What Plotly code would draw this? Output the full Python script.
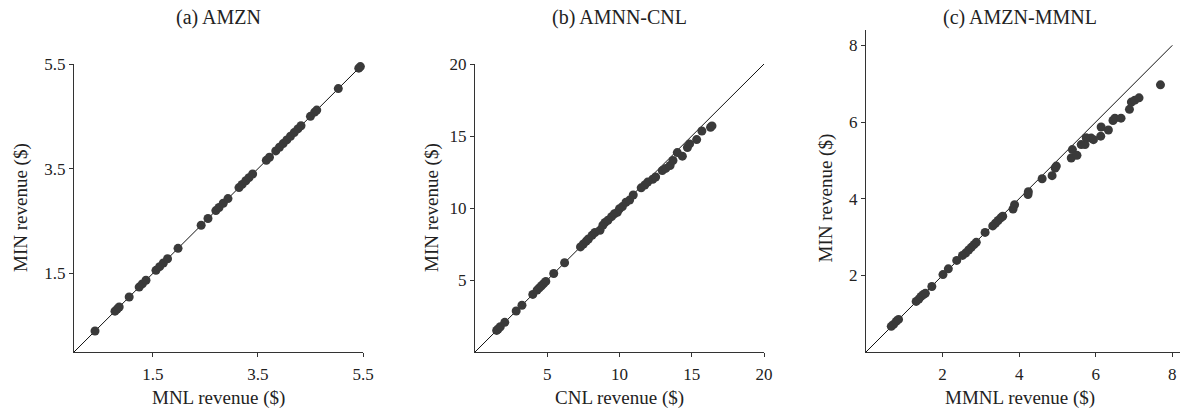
import plotly.graph_objects as go

# ---------------- data ----------------
titles = ["(a) AMZN", "(b) AMNN-CNL", "(c) AMZN-MMNL"]
x_titles = ["MNL revenue ($)", "CNL revenue ($)", "MMNL revenue ($)"]
y_title = "MIN revenue ($)"

ticks1 = [1.5, 3.5, 5.5]
ticks2 = [5, 10, 15, 20]
ticks3 = [2, 4, 6, 8]

diag1 = [0, 5.5]
diag2 = [0, 20]
diag3 = [0, 8]

x1 = [0.40, 0.78, 0.82, 0.86, 1.05, 1.24, 1.30, 1.37, 1.56, 1.63, 1.70, 1.78, 1.98,
      2.42, 2.55, 2.70, 2.76, 2.84, 2.93, 3.14, 3.20, 3.27, 3.33, 3.40, 3.66, 3.72,
      3.84, 3.91, 3.98, 4.05, 4.12, 4.19, 4.26, 4.32, 4.50, 4.58, 4.62, 5.03, 5.42, 5.45]
y1 = [0.40, 0.78, 0.82, 0.86, 1.05, 1.24, 1.30, 1.37, 1.56, 1.63, 1.70, 1.78, 1.98,
      2.42, 2.55, 2.70, 2.76, 2.84, 2.93, 3.14, 3.20, 3.27, 3.33, 3.40, 3.66, 3.72,
      3.84, 3.91, 3.98, 4.05, 4.12, 4.19, 4.26, 4.32, 4.50, 4.58, 4.62, 5.03, 5.42, 5.45]

x2 = [1.5, 1.6, 1.75, 2.06, 2.85, 3.25, 4.0, 4.3, 4.45, 4.6, 4.75, 4.9, 5.45, 6.2,
      7.3, 7.5, 7.7, 7.85, 8.1, 8.3, 8.65, 8.85, 9.0, 9.2, 9.45, 9.65, 9.85, 10.0,
      10.2, 10.45, 10.7, 10.95, 11.5, 11.75, 11.95, 12.3, 12.5, 12.96, 13.2, 13.5,
      13.7, 14.0, 14.35, 14.7, 14.85, 15.34, 15.7, 16.3, 16.4]
y2 = [1.5, 1.6, 1.75, 2.06, 2.85, 3.25, 4.0, 4.3, 4.45, 4.6, 4.75, 4.9, 5.45, 6.2,
      7.3, 7.5, 7.7, 7.85, 8.1, 8.3, 8.45, 8.8, 9.0, 9.15, 9.4, 9.6, 9.7, 9.95,
      10.1, 10.4, 10.55, 10.9, 11.4, 11.6, 11.8, 12.0, 12.15, 12.6, 12.75, 12.95,
      13.3, 13.85, 13.6, 14.2, 14.45, 14.75, 15.35, 15.6, 15.7]

x3 = [0.66, 0.72, 0.79, 0.85, 1.31, 1.38, 1.44, 1.5, 1.55, 1.72, 2.01, 2.15, 2.37,
      2.52, 2.6, 2.68, 2.75, 2.82, 2.88, 3.11, 3.31, 3.38, 3.45, 3.52, 3.57, 3.84,
      3.88, 4.23, 4.24, 4.6, 4.86, 4.94, 4.97, 5.36, 5.39, 5.51, 5.62, 5.72, 5.75,
      5.88, 5.94, 6.13, 6.14, 6.33, 6.45, 6.5, 6.66, 6.88, 6.93, 7.02, 7.13, 7.69]
y3 = [0.67, 0.72, 0.8, 0.85, 1.32, 1.38, 1.45, 1.5, 1.53, 1.71, 2.02, 2.17, 2.39,
      2.52, 2.58, 2.66, 2.73, 2.8, 2.86, 3.12, 3.29, 3.36, 3.43, 3.5, 3.54, 3.73,
      3.84, 4.11, 4.18, 4.52, 4.6, 4.8, 4.85, 5.06, 5.28, 5.13, 5.41, 5.41, 5.59,
      5.58, 5.54, 5.63, 5.87, 5.79, 6.04, 6.1, 6.1, 6.33, 6.52, 6.57, 6.63, 6.97]

# ---------------- layout constants ----------------
W, H = 1182, 416
FONT = "Liberation Serif"
TXT = "#222222"
DOT = "#3a3a3a"

# pixel boxes: (left, right, top, bottom)
boxes = [(74, 363, 64, 352), (475, 764, 64, 352), (866, 1180, 30, 352)]
ranges = [([0, 5.5], [0, 5.5]), ([0, 20], [0, 20]), ([0, 8.2], [0, 8.4])]
tick_sets = [ticks1, ticks2, ticks3]
diags = [diag1, diag2, diag3]
xs = [x1, x2, x3]
ys = [y1, y2, y3]
ytitle_x = [21, 432, 825]
title_cx = [218.5, 619.5, 1019.5]
title_y = 18

fig = go.Figure()
layout = dict(
    width=W, height=H, autosize=False,
    margin=dict(l=0, r=0, t=0, b=0, pad=0),
    paper_bgcolor="white", plot_bgcolor="white",
    showlegend=False,
    font=dict(family=FONT, color=TXT, size=15),
)
annotations = []

for i in range(3):
    n = "" if i == 0 else str(i + 1)
    xa, ya = "x" + n, "y" + n
    l, r, t, b = boxes[i]
    axis_common = dict(
        showline=True, linecolor="#333333", linewidth=1.2,
        ticks="outside", ticklen=4, tickwidth=1, tickcolor="#333333",
        showgrid=False, zeroline=False, automargin=False,
        tickfont=dict(family=FONT, size=17, color=TXT),
        fixedrange=True,
    )
    layout["xaxis" + n] = dict(
        axis_common, domain=[l / W, r / W], range=ranges[i][0],
        tickvals=tick_sets[i], anchor=ya, ticklabelstandoff=2,
    )
    layout["yaxis" + n] = dict(
        axis_common, domain=[1 - b / H, 1 - t / H], range=ranges[i][1],
        tickvals=tick_sets[i], anchor=xa,
    )
    # diagonal
    fig.add_trace(go.Scatter(
        x=diags[i], y=diags[i], mode="lines",
        line=dict(color="#111111", width=1), xaxis=xa, yaxis=ya,
        hoverinfo="skip",
    ))
    # points
    fig.add_trace(go.Scatter(
        x=xs[i], y=ys[i], mode="markers",
        marker=dict(color=DOT, size=9, line=dict(width=0)),
        xaxis=xa, yaxis=ya, cliponaxis=False,
    ))
    # subplot title
    annotations.append(dict(
        text=titles[i], xref="paper", yref="paper",
        x=title_cx[i] / W, y=1 - title_y / H, showarrow=False,
        xanchor="center", yanchor="middle",
        font=dict(family=FONT, size=20, color=TXT),
    ))
    # x-axis title
    annotations.append(dict(
        text=x_titles[i], xref="paper", yref="paper",
        x=title_cx[i] / W, y=1 - 398 / H, showarrow=False,
        xanchor="center", yanchor="middle",
        font=dict(family=FONT, size=19, color=TXT),
    ))
    # y-axis title
    cy = (64 + 352) / 2 if i < 2 else (45 + 352) / 2
    annotations.append(dict(
        text=y_title, xref="paper", yref="paper", textangle=-90,
        x=ytitle_x[i] / W, y=1 - cy / H, showarrow=False,
        xanchor="center", yanchor="middle",
        font=dict(family=FONT, size=19, color=TXT),
    ))

layout["annotations"] = annotations
fig.update_layout(**layout)
fig.write_html(
    "out.html",
    config={"displayModeBar": False},
    post_script="document.body.style.margin='0';document.body.style.overflow='hidden';",
)
